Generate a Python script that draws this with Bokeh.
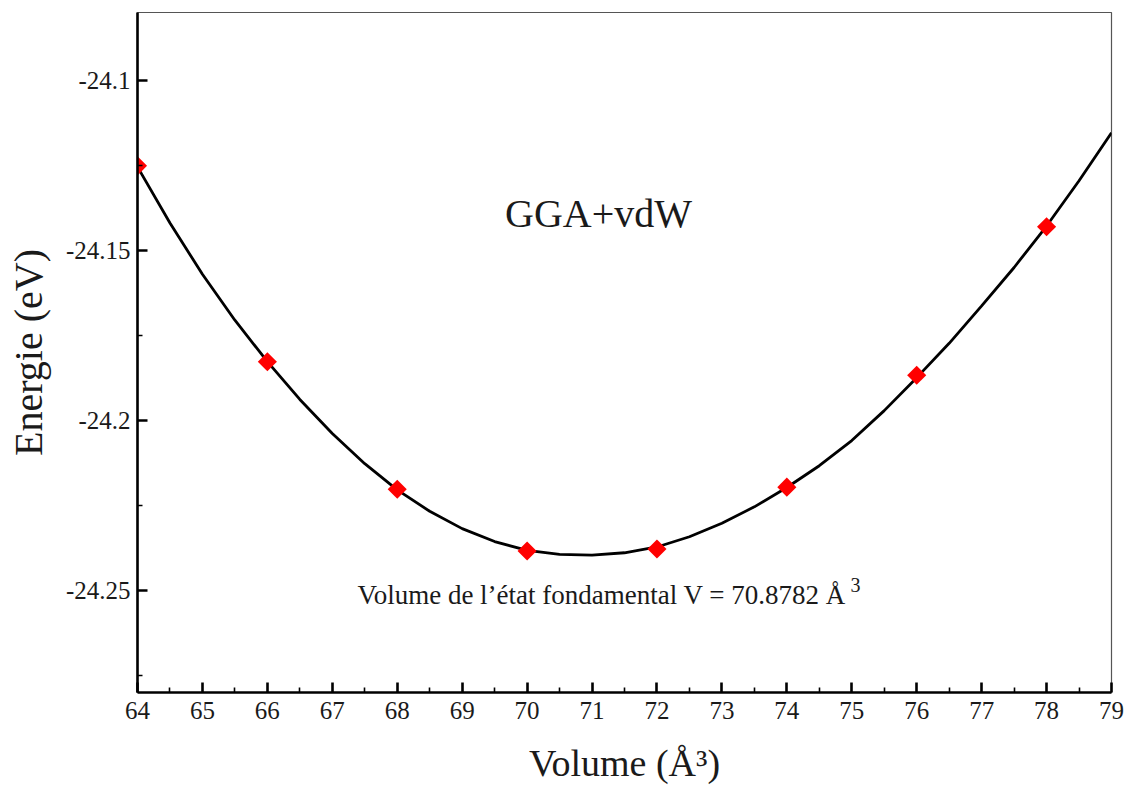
import math
from bokeh.plotting import figure
from bokeh.models import FixedTicker, Label, Range1d
from bokeh.embed import file_html
from bokeh.resources import INLINE

# Calculated points (volume in Å^3, energy in eV)
volume_pts = [64, 66, 68, 70, 72, 74, 76, 78]
energy_pts = [-24.1251, -24.1827, -24.2202, -24.2384, -24.2378, -24.2196, -24.1867, -24.1430]

# Fitted equation-of-state curve
volume_fit = [64, 64.5, 65, 65.5, 66, 66.5, 67, 67.5, 68, 68.5, 69, 69.5, 70, 70.5, 71,
              71.5, 72, 72.5, 73, 73.5, 74, 74.5, 75, 75.5, 76, 76.5, 77, 77.5, 78, 78.5, 79]
energy_fit = [-24.1254, -24.1419, -24.1570, -24.1705, -24.1827, -24.1938, -24.2038, -24.2127,
              -24.2204, -24.2267, -24.2318, -24.2356, -24.2382, -24.2394, -24.2396, -24.2389,
              -24.2372, -24.2342, -24.2302, -24.2254, -24.2197, -24.2133, -24.2059, -24.1971,
              -24.1874, -24.1773, -24.1663, -24.1550, -24.1428, -24.1295, -24.1154]

x_major = list(range(64, 80))
x_minor = [v + 0.5 for v in range(64, 79)]
y_major = [-24.25, -24.2, -24.15, -24.1]
y_minor = [-24.275, -24.225, -24.175, -24.125]
y_labels = {-24.25: "-24.25", -24.2: "-24.2", -24.15: "-24.15", -24.1: "-24.1"}

title_text = "GGA+vdW"
note_text = "Volume de l\u2019\u00e9tat fondamental V = 70.8782 \u00c5"
FONT = "Times"
INK = "#1a1a1a"

p = figure(width=1132, height=787, output_backend="svg", toolbar_location=None,
           x_range=Range1d(64, 79), y_range=Range1d(-24.28, -24.08),
           min_border_left=137, min_border_right=21, min_border_top=12, min_border_bottom=95)

p.background_fill_color = "white"
p.border_fill_color = "white"
p.outline_line_color = "#555555"
p.outline_line_width = 1.2
p.grid.visible = False

p.xaxis.ticker = FixedTicker(ticks=x_major, minor_ticks=x_minor)
p.yaxis.ticker = FixedTicker(ticks=y_major, minor_ticks=y_minor)
p.yaxis.major_label_overrides = y_labels

for ax in (p.xaxis, p.yaxis):
    ax.axis_line_width = 2.6
    ax.axis_line_color = "black"
    ax.major_tick_in = 10
    ax.major_tick_out = 0
    ax.minor_tick_in = 5
    ax.minor_tick_out = 0
    ax.major_tick_line_width = 2.6
    ax.minor_tick_line_width = 1.6
    ax.major_tick_line_color = "black"
    ax.minor_tick_line_color = "black"
    ax.major_label_text_font = FONT
    ax.major_label_text_font_size = "25px"
    ax.major_label_text_color = INK
    ax.axis_label_text_font = FONT
    ax.axis_label_text_font_style = "normal"
    ax.axis_label_text_color = INK

p.xaxis.axis_label = "Volume (\u00c5\u00b3)"
p.xaxis.axis_label_text_font_size = "38px"
p.yaxis.axis_label = "Energie (eV)"
p.yaxis.axis_label_text_font_size = "40px"
p.xaxis.major_label_standoff = 9
p.yaxis.major_label_standoff = 7
p.xaxis.axis_label_standoff = 20
p.yaxis.axis_label_standoff = 12

p.line(volume_fit, energy_fit, line_color="black", line_width=2.8)
p.scatter(volume_pts, energy_pts, marker="square", angle=math.pi / 4, size=13.5,
          fill_color="red", line_color="red", line_width=0)


def add_text(x, y, text, size, align="left"):
    p.add_layout(Label(x=x, y=y, text=text, text_align=align, text_baseline="middle",
                       text_font=FONT, text_font_size=size, text_color=INK))


# panel title and ground-state annotation
add_text(71.1, -24.1392, title_text, "40px", "center")
add_text(67.39, -24.2512, note_text, "27px")
add_text(74.98, -24.2484, "3", "20px")

open("out.html", "w").write(file_html(p, INLINE))
